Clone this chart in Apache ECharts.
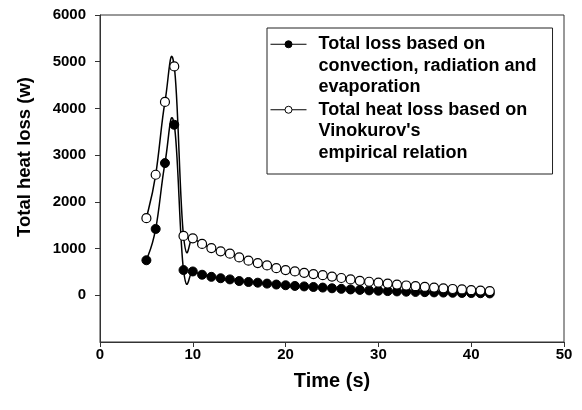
<!DOCTYPE html>
<html>
<head>
<meta charset="utf-8">
<script src="https://cdn.jsdelivr.net/npm/echarts@6/dist/echarts.min.js"></script>
<style>
  html, body { margin: 0; padding: 0; background: #fff; }
  #chart { width: 582px; height: 410px; }
</style>
</head>
<body>
<div id="chart"></div>
<script>
// Time steps (s)
const timeSec = [5, 6, 7, 8, 9, 10, 11, 12, 13, 14, 15, 16, 17, 18, 19, 20, 21, 22, 23,
  24, 25, 26, 27, 28, 29, 30, 31, 32, 33, 34, 35, 36, 37, 38, 39, 40, 41, 42];

// Total loss from convection, radiation and evaporation (W)
const lossConvRadEvap = [750, 1420, 2830, 3650, 540, 510, 440, 395, 365, 340, 305, 285, 270,
  250, 230, 215, 200, 190, 178, 165, 150, 138, 125, 115, 105, 98, 90, 83, 77, 72, 67, 62,
  58, 54, 50, 47, 44, 40];

// Total heat loss from Vinokurov's empirical relation (W)
const lossVinokurov = [1650, 2580, 4140, 4900, 1270, 1220, 1100, 1010, 940, 890, 810, 740,
  690, 640, 580, 540, 510, 480, 455, 430, 400, 370, 340, 310, 290, 270, 250, 230, 210, 195,
  180, 165, 150, 135, 125, 110, 100, 90];

const seriesNames = [
  'Total loss based on\nconvection, radiation and\nevaporation',
  "Total heat loss based on\nVinokurov's\nempirical relation"
];

const xTicks = [0, 10, 20, 30, 40, 50];
const yTicks = [0, 1000, 2000, 3000, 4000, 5000, 6000];

const FONT = "'Liberation Sans', Arial, Helvetica, sans-serif";
const LINE_H = 21.5;
const TENSION = 0.65; // cardinal spline tangent scale

// Legend icon: a short line broken by a circle, sitting on the first text line
function legendIconPath() {
  const w = 43, h = LINE_H * 3, cy = LINE_H / 2, cx = 18, r = 3.5, x1 = 0, x2 = 36;
  return 'path://M0,0L0,0M' + w + ',' + h + 'L' + w + ',' + h +
    'M' + x1 + ',' + cy + 'L' + (cx - r) + ',' + cy +
    'M' + (cx + r) + ',' + cy + 'L' + x2 + ',' + cy +
    'M' + (cx + r) + ',' + cy +
    'A' + r + ',' + r + ',0,1,1,' + (cx - r) + ',' + cy +
    'A' + r + ',' + r + ',0,1,1,' + (cx + r) + ',' + cy + 'Z';
}

// Spline segment from data item i to i+1 (cardinal spline through the points)
function splineSegment(params, api) {
  const n = params.dataInsideLength;
  const i = params.dataIndexInside;
  if (i >= n - 1) return null;
  const pt = (k) => {
    const kk = Math.max(0, Math.min(n - 1, k));
    return api.coord([api.value(0, kk), api.value(1, kk)]);
  };
  const p0 = pt(i - 1), p1 = pt(i), p2 = pt(i + 1), p3 = pt(i + 2);
  const m1 = [TENSION * (p2[0] - p0[0]), TENSION * (p2[1] - p0[1])];
  const m2 = [TENSION * (p3[0] - p1[0]), TENSION * (p3[1] - p1[1])];
  return {
    type: 'bezierCurve',
    shape: {
      x1: p1[0], y1: p1[1],
      x2: p2[0], y2: p2[1],
      cpx1: p1[0] + m1[0] / 3, cpy1: p1[1] + m1[1] / 3,
      cpx2: p2[0] - m2[0] / 3, cpy2: p2[1] - m2[1] / 3
    },
    style: { stroke: '#000', lineWidth: 1.5, fill: null }
  };
}

const chart = echarts.init(document.getElementById('chart'), null, { renderer: 'canvas' });

chart.setOption({
  animation: false,
  backgroundColor: '#fff',
  textStyle: { fontFamily: FONT },
  grid: {
    left: 100, right: 18, top: 15, bottom: 68,
    show: true, borderColor: '#333', borderWidth: 1, backgroundColor: 'transparent'
  },
  legend: {
    orient: 'vertical',
    left: 267, top: 28,
    padding: [5, 16, 10, 3],
    itemWidth: 43,
    itemHeight: LINE_H * 3,
    itemGap: 0,
    borderColor: '#222', borderWidth: 1,
    selectedMode: false,
    textStyle: { fontFamily: FONT, fontSize: 18, fontWeight: 'bold', color: '#000', lineHeight: LINE_H },
    data: [
      { name: seriesNames[0], icon: legendIconPath(),
        itemStyle: { color: '#000', borderColor: '#000', borderWidth: 1 } },
      { name: seriesNames[1], icon: legendIconPath(),
        itemStyle: { color: '#fff', borderColor: '#000', borderWidth: 1 } }
    ]
  },
  xAxis: {
    type: 'value', min: 0, max: 50, interval: 10,
    name: 'Time (s)', nameLocation: 'middle', nameGap: 29,
    nameTextStyle: { fontFamily: FONT, fontSize: 20, fontWeight: 'bold', color: '#000' },
    axisLine: { show: true, onZero: false, lineStyle: { color: '#333', width: 1 } },
    axisTick: { show: true, inside: false, length: 5, lineStyle: { color: '#333' }, customValues: xTicks },
    axisLabel: { customValues: xTicks, margin: 5, fontFamily: FONT, fontSize: 15, fontWeight: 'bold', color: '#000',
      formatter: (v) => String(v) },
    splitLine: { show: false }
  },
  yAxis: {
    type: 'value', min: -1000, max: 6000, interval: 1000,
    axisLine: { show: true, onZero: false, lineStyle: { color: '#333', width: 1 } },
    axisTick: { show: true, inside: false, length: 5, lineStyle: { color: '#333' }, customValues: yTicks },
    axisLabel: { customValues: yTicks, margin: 14, fontFamily: FONT, fontSize: 15, fontWeight: 'bold', color: '#000',
      formatter: (v) => String(v) },
    splitLine: { show: false }
  },
  graphic: [{
    type: 'text',
    x: 25, y: 157,
    rotation: Math.PI / 2,
    style: {
      text: 'Total heat loss (w)',
      font: 'bold 18.5px ' + FONT,
      fill: '#000',
      align: 'center',
      verticalAlign: 'middle'
    }
  }],
  series: [
    {
      name: 'curve-conv',
      type: 'custom',
      renderItem: splineSegment,
      data: timeSec.map((t, i) => [t, lossConvRadEvap[i]]),
      silent: true
    },
    {
      name: seriesNames[0],
      type: 'line',
      data: timeSec.map((t, i) => [t, lossConvRadEvap[i]]),
      symbol: 'circle', symbolSize: 9,
      color: '#000',
      itemStyle: { color: '#000', borderColor: '#000', borderWidth: 1 },
      lineStyle: { color: '#000', width: 1.5, opacity: 0 }
    },
    {
      name: 'curve-vino',
      type: 'custom',
      renderItem: splineSegment,
      data: timeSec.map((t, i) => [t, lossVinokurov[i]]),
      silent: true
    },
    {
      name: seriesNames[1],
      type: 'line',
      data: timeSec.map((t, i) => [t, lossVinokurov[i]]),
      symbol: 'circle', symbolSize: 9,
      color: '#000',
      itemStyle: { color: '#fff', borderColor: '#000', borderWidth: 1.2 },
      lineStyle: { color: '#000', width: 1.5, opacity: 0 }
    }
  ]
});
</script>
</body>
</html>
